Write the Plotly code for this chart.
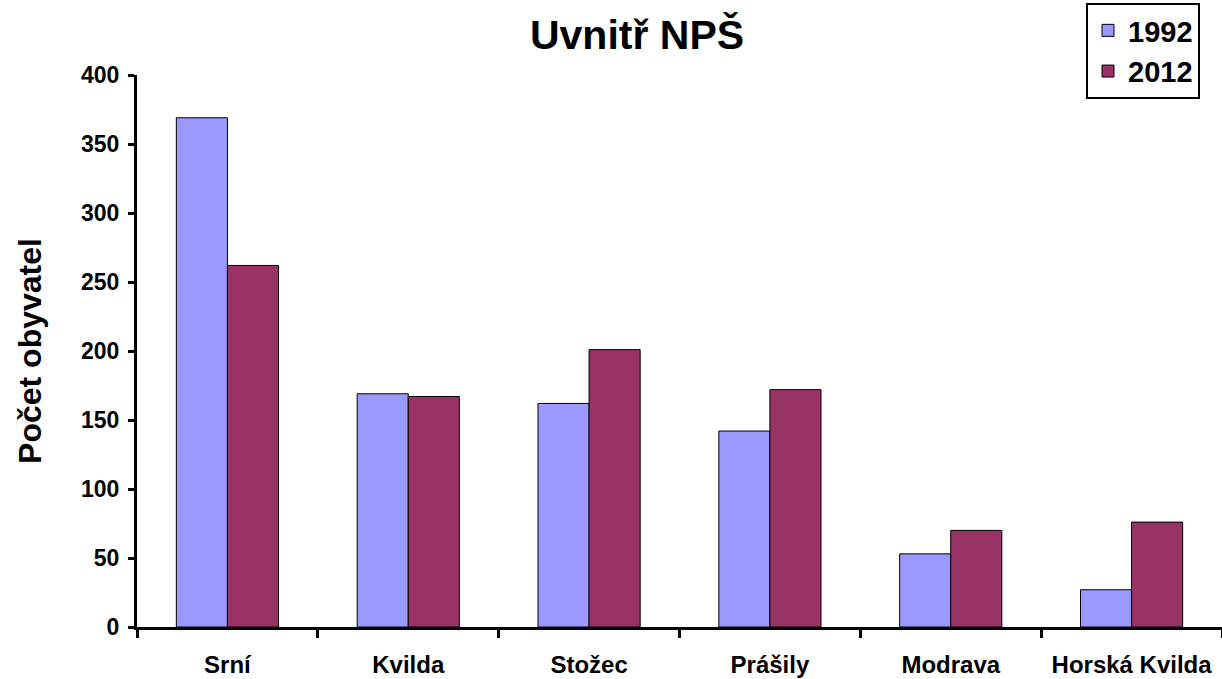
import plotly.graph_objects as go

categories = ["Srní", "Kvilda", "Stožec", "Prášily", "Modrava", "Horská Kvilda"]
values_1992 = [369, 169, 162, 142, 53, 27]
values_2012 = [262, 167, 201, 172, 70, 76]
y_ticks = [0, 50, 100, 150, 200, 250, 300, 350, 400]

FONT = "Arial, Liberation Sans, sans-serif"

fig = go.Figure()
fig.add_trace(go.Bar(name="1992", x=categories, y=values_1992,
                     marker=dict(color="#9999FF", line=dict(color="#000000", width=1))))
fig.add_trace(go.Bar(name="2012", x=categories, y=values_2012,
                     marker=dict(color="#993366", line=dict(color="#000000", width=1))))

fig.update_layout(
    width=1222, height=679,
    paper_bgcolor="white", plot_bgcolor="white",
    margin=dict(l=137, r=0, t=75, b=52, autoexpand=False),
    barmode="group", bargap=0.435, bargroupgap=0,
    font=dict(family=FONT, color="black", size=22, weight="bold"),
    title=dict(text="Uvnitř NPŠ", x=637/1222, xanchor="center", xref="container",
               y=1-35/679, yanchor="middle", yref="container",
               font=dict(size=41, family=FONT, weight="bold")),
    legend=dict(xref="container", yref="container", x=1086/1222, y=1-3/679,
                xanchor="left", yanchor="top", bordercolor="black", borderwidth=2,
                bgcolor="white", font=dict(size=29, family=FONT, weight="bold")),
    showlegend=True,
)
fig.update_xaxes(showline=True, linecolor="black", linewidth=3, ticks="outside",
                 tickson="boundaries", ticklen=8, tickwidth=3, tickcolor="black",
                 showgrid=False, tickfont=dict(size=24, weight="bold"),
                 ticklabelstandoff=14, automargin=False)
fig.update_yaxes(range=[0, 400], tickvals=y_ticks, showline=True, linecolor="black",
                 linewidth=3, ticks="outside", ticklen=6, tickwidth=3, tickcolor="black",
                 showgrid=False, zeroline=False, tickfont=dict(size=23, weight="bold"),
                 ticklabelstandoff=4, automargin=False,
                 title=dict(text="Počet obyvatel", font=dict(size=32, weight="bold"), standoff=30))

fig.write_html("out.html", config={"displayModeBar": False},
               post_script="document.body.style.margin='0';")
